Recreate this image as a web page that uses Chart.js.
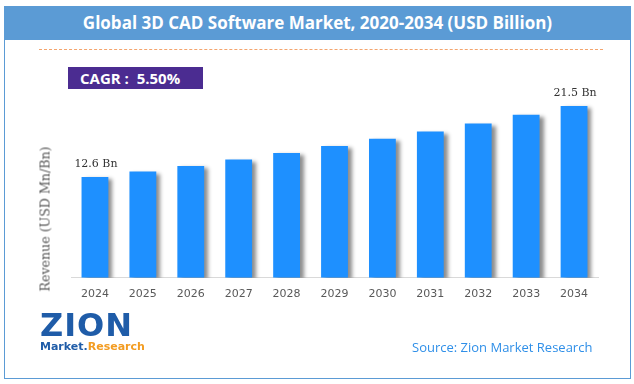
<!DOCTYPE html>
<html>
<head>
<meta charset="utf-8">
<script src="https://cdn.jsdelivr.net/npm/chart.js@4.4.1/dist/chart.umd.min.js"></script>
<style>
    html, body { margin: 0; padding: 0; background: #ffffff; }
    .wrap { position: relative; width: 634px; height: 384px; overflow: hidden; }
    .frame { position: absolute; left: 4px; top: 6px; width: 625px; height: 371px; border: 1px solid #5b9bd5; }
    .title-band { position: absolute; left: 4px; top: 6px; width: 627px; height: 34px; background: #5b9bd5;
        color: #ffffff; font-family: "Open Sans", sans-serif; font-weight: bold; font-size: 17px;
        line-height: 34px; text-align: center; }
    .dash { position: absolute; left: 39px; top: 49px; width: 564px; border-top: 1px dashed #f4a46c; }
    .cagr { position: absolute; left: 68px; top: 67px; width: 135px; height: 22px; background: #4b2c91;
        color: #ffffff; font-family: "Open Sans", sans-serif; font-weight: bold; font-size: 15px;
        line-height: 22px; padding-left: 12px; box-sizing: border-box; white-space: pre; }
    .ytitle { position: absolute; left: 45px; top: 219px; transform: translate(-50%, -50%) rotate(-90deg);
        white-space: nowrap; font-family: "DejaVu Serif", serif; font-size: 12.6px; color: #555555; }
    .logo { position: absolute; left: 40px; top: 311px; width: 115px; font-family: "DejaVu Sans", sans-serif; }
    .logo .big { font-size: 32px; font-weight: bold; color: #1f5ca8; line-height: 29px; letter-spacing: 1px; }
    .logo .small { font-size: 11px; font-weight: bold; line-height: 13px; color: #1f5ca8; }
    .logo .small span { color: #f39c21; }
    .source { position: absolute; left: 412px; top: 338px; font-family: "Open Sans", sans-serif; font-size: 13px;
        color: #2f8fe8; }
    canvas { position: absolute; left: 0; top: 0; }
</style>
</head>
<body>
<div class="wrap">
    <div class="frame"></div>
    <div class="title-band">Global 3D CAD Software Market, 2020-2034 (USD Billion)</div>
    <div class="dash"></div>
    <div class="cagr">CAGR :  5.50%</div>
    <canvas id="marketChart" width="634" height="384"></canvas>
    <div class="ytitle">Revenue (USD Mn/Bn)</div>
    <div class="logo">
        <div class="big">ZION</div>
        <div class="small">Market.<span>Research</span></div>
    </div>
    <div class="source">Source: Zion Market Research</div>
</div>
<script>
const years = ['2024', '2025', '2026', '2027', '2028', '2029', '2030', '2031', '2032', '2033', '2034'];
const revenue = [12.6, 13.3, 14.0, 14.8, 15.6, 16.5, 17.4, 18.3, 19.3, 20.4, 21.5];
const valueLabels = ['12.6 Bn', '', '', '', '', '', '', '', '', '', '21.5 Bn'];

const barShadow = {
    id: 'barShadow',
    beforeDatasetsDraw(chart) {
        const ctx = chart.ctx;
        ctx.save();
        ctx.shadowColor = 'rgba(0, 0, 0, 0.45)';
        ctx.shadowOffsetX = 4;
        ctx.shadowOffsetY = 2;
        ctx.shadowBlur = 4;
    },
    afterDatasetsDraw(chart) {
        chart.ctx.restore();
    }
};

const barLabels = {
    id: 'barLabels',
    afterDatasetsDraw(chart) {
        const ctx = chart.ctx;
        const meta = chart.getDatasetMeta(0);
        ctx.save();
        ctx.font = '11px "DejaVu Serif", serif';
        ctx.fillStyle = '#333333';
        ctx.textAlign = 'center';
        ctx.textBaseline = 'middle';
        meta.data.forEach((bar, i) => {
            if (valueLabels[i]) {
                ctx.fillText(valueLabels[i], bar.x + 1, bar.y - 13);
            }
        });
        ctx.restore();
    }
};

new Chart(document.getElementById('marketChart'), {
    type: 'bar',
    data: {
        labels: years,
        datasets: [{
            data: revenue,
            backgroundColor: '#1e90ff',
            categoryPercentage: 1,
            barPercentage: 0.56
        }]
    },
    options: {
        responsive: false,
        animation: false,
        events: [],
        layout: {
            padding: { left: 71, right: 36, top: 78, bottom: 73 }
        },
        plugins: {
            legend: { display: false },
            tooltip: { enabled: false }
        },
        scales: {
            x: {
                grid: { display: false, drawTicks: false },
                border: { color: '#d9d9d9' },
                ticks: {
                    color: '#595959',
                    padding: 10,
                    font: { family: '"DejaVu Sans", sans-serif', size: 11 }
                }
            },
            y: {
                display: false,
                min: 0,
                max: 25
            }
        }
    },
    plugins: [barShadow, barLabels]
});
</script>
</body>
</html>
